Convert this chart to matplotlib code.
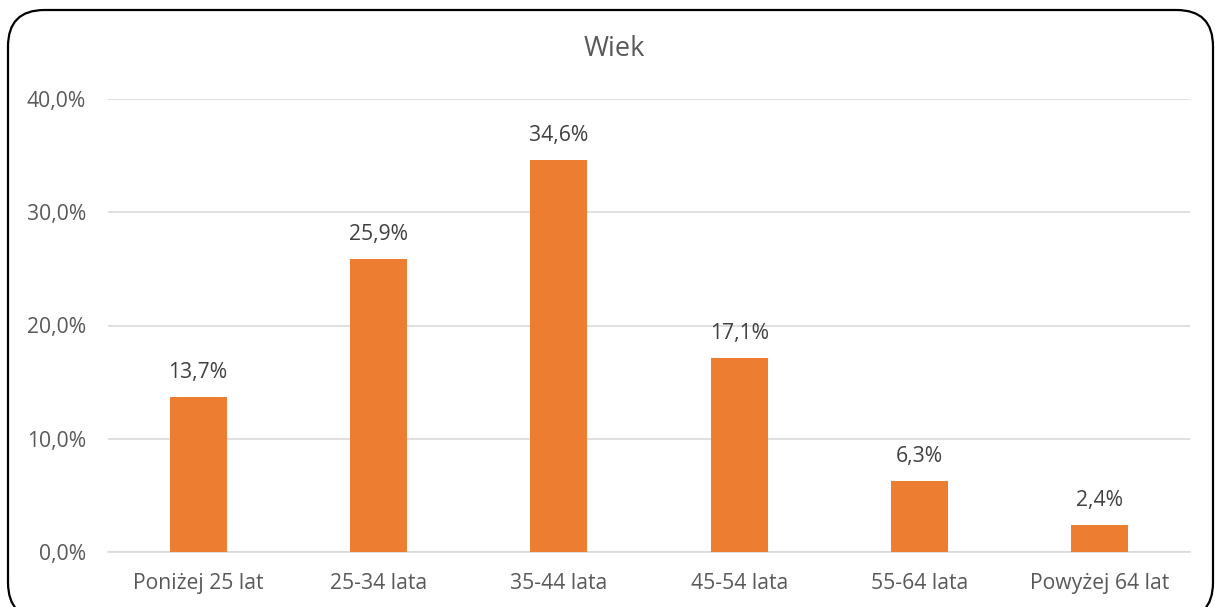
import matplotlib
matplotlib.use("Agg")
import matplotlib.pyplot as plt
from matplotlib.patches import FancyBboxPatch
from matplotlib.ticker import FuncFormatter

categories = ["Poniżej 25 lat", "25-34 lata", "35-44 lata", "45-54 lata", "55-64 lata", "Powyżej 64 lat"]
values = [13.7, 25.9, 34.6, 17.1, 6.3, 2.4]
title = "Wiek"

plt.rcParams['font.family'] = ['Open Sans', 'DejaVu Sans']

W, H = 1215, 607
fig = plt.figure(figsize=(W / 100, H / 100), dpi=100)
fig.patch.set_facecolor("white")

# rounded border
border = FancyBboxPatch((8 / W, -12 / H), (1213 - 8) / W, (H - 10 + 12) / H,
                        boxstyle="round,pad=0,rounding_size=0.03",
                        transform=fig.transFigure, fill=False, edgecolor="black",
                        linewidth=1.6, mutation_aspect=W / H, zorder=10)
fig.patches.append(border)

ax = fig.add_axes([108 / W, 1 - 552 / H, (1190 - 108) / W, (552 - 99) / H])
x = list(range(len(categories)))
bars = ax.bar(x, values, width=0.315, color="#ED7D31", zorder=3)
ax.set_xlim(-0.5, len(categories) - 0.5)
ax.set_ylim(0, 40)
ax.set_yticks([0, 10, 20, 30, 40])
ax.yaxis.set_major_formatter(FuncFormatter(lambda v, p: f"{v:.1f}%".replace(".", ",")))
ax.set_xticks(x)
ax.set_xticklabels(categories)
ax.tick_params(axis="both", length=0, labelsize=15.2, colors="#595959")
ax.tick_params(axis="x", pad=15)
ax.tick_params(axis="y", pad=16)
ax.grid(axis="y", color="#D9D9D9", linewidth=1.2, zorder=0)
for s in ["top", "right", "left"]:
    ax.spines[s].set_visible(False)
ax.spines["bottom"].set_color("#D9D9D9")
ax.spines["bottom"].set_linewidth(1.2)

for xi, v in zip(x, values):
    ax.annotate(f"{v:.1f}%".replace(".", ","), (xi, v), xytext=(0, 10),
                textcoords="offset points", ha="center", va="bottom",
                fontsize=15.2, color="#404040")

fig.text(614 / W, 1 - 49 / H, title, ha="center", va="center", fontsize=19.5, color="#595959")

fig.savefig("out.png", dpi=100)
